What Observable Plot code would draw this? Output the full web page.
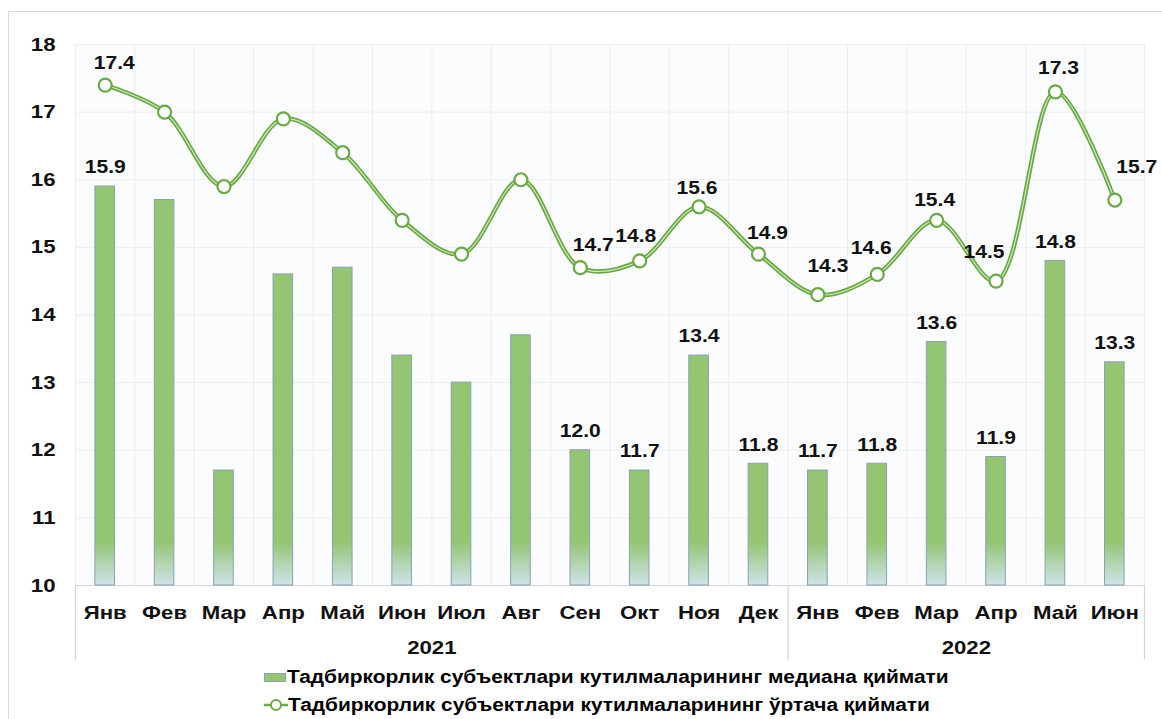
<!DOCTYPE html>
<html>
<head>
<meta charset="utf-8">
<script src="https://cdn.jsdelivr.net/npm/d3@7"></script>
<script src="https://cdn.jsdelivr.net/npm/@observablehq/plot@0.6"></script>
<style>
  html, body { margin: 0; padding: 0; background: #fff; }
  body { width: 1162px; height: 719px; position: relative; overflow: hidden; font-family: "Liberation Sans", Arial, sans-serif; }
  #border { position: absolute; left: 8px; top: 11px; width: 1160px; height: 720px; border-left: 1px solid #d9d9d9; border-top: 1px solid #d9d9d9; box-sizing: border-box; }
  #chart { position: absolute; left: 0; top: 0; }
  #legend { position: absolute; left: 264px; top: 663px; font-weight: bold; font-size: 18px; color: #000; }
  .row { display: flex; align-items: center; height: 28px; white-space: nowrap; }
  .row span { display: inline-block; transform: scaleX(1.16); transform-origin: 0 50%; }
  .sw { width: 22px; height: 9px; background: #93c572; border: 1px solid #8aa0b4; margin-right: 1px; box-sizing: border-box; }
</style>
</head>
<body>
<div id="border"></div>
<div id="chart"></div>
<div id="legend"></div>
<script>
// ---- data ----
const months = ["Янв","Фев","Мар","Апр","Май","Июн","Июл","Авг","Сен","Окт","Ноя","Дек","Янв","Фев","Мар","Апр","Май","Июн"];
const yearNames = ["2021", "2022"];
const yearMonthCounts = [12, 6];
const medianValues = [15.9, 15.7, 11.7, 14.6, 14.7, 13.4, 13.0, 13.7, 12.0, 11.7, 13.4, 11.8, 11.7, 11.8, 13.6, 11.9, 14.8, 13.3];
const meanValues   = [17.4, 17.0, 15.9, 16.9, 16.4, 15.4, 14.9, 16.0, 14.7, 14.8, 15.6, 14.9, 14.3, 14.6, 15.4, 14.5, 17.3, 15.7];
const medianLabelled = [1,0,0,0,0,0,0,0,1,1,1,1,1,1,1,1,1,1];
const meanLabelled   = [1,0,0,0,0,0,0,0,1,1,1,1,1,1,1,1,1,1];
const yTicks = [10, 11, 12, 13, 14, 15, 16, 17, 18];
const seriesNames = [
  "Тадбиркорлик субъектлари кутилмаларининг медиана қиймати",
  "Тадбиркорлик субъектлари кутилмаларининг ўртача қиймати"
];

// ---- build table ----
const data = months.map((m, i) => ({i, month: m, median: medianValues[i], mean: meanValues[i],
  showMedian: !!medianLabelled[i], showMean: !!meanLabelled[i]}));
const yearData = [];
let start = 0;
yearNames.forEach((y, k) => { yearData.push({year: y, center: start + (yearMonthCounts[k] - 1) / 2, left: start - 0.5}); start += yearMonthCounts[k]; });
const separators = yearData.map(d => d.left).concat([start - 0.5]);
const boundaries = d3.range(-0.5, months.length, 1);

// label nudges for the line's labels (as placed in the original)
const nudge = {0:[9,-22], 8:[13,-22], 9:[-4,-25], 10:[-2,-19], 11:[9,-21], 12:[10,-28], 13:[-6,-26], 14:[-2,-20], 15:[-12,-29], 16:[3,-24], 17:[22,-33]};
const meanLabelData = data.filter(d => d.showMean).map(d => ({...d, ndx: (nudge[d.i]||[6,-22])[0], ndy: (nudge[d.i]||[6,-22])[1]}));

const green = "#6aa944";
const marks = [
  Plot.frame({fill: "#fbfcfe", stroke: "#ececec"}),
  Plot.ruleY(yTicks, {stroke: "#ededed", strokeWidth: 1}),
  Plot.ruleX(boundaries, {stroke: "#ededed", strokeWidth: 1}),
  Plot.ruleY([10], {stroke: "#d4d4d4", strokeWidth: 1.2}),
  Plot.ruleX(separators, {y1: 10, y2: 8.9, stroke: "#d4d4d4", strokeWidth: 1.2}),
  Plot.rectY(data, {x1: d => d.i - 0.165, x2: d => d.i + 0.165, y1: 10, y2: "median", fill: "url(#barGrad)", stroke: "#8aa0b4", strokeWidth: 1}),
  Plot.text(data.filter(d => d.showMedian), {x: "i", y: "median", text: d => d.median.toFixed(1), dy: -19, fontSize: 18, fontWeight: "bold", fill: "#111"}),
  Plot.line(data, {x: "i", y: "mean", curve: "catmull-rom", stroke: green, strokeWidth: 4.5}),
  Plot.line(data, {x: "i", y: "mean", curve: "catmull-rom", stroke: "#d6ebc6", strokeWidth: 1.1}),
  Plot.dot(data, {x: "i", y: "mean", r: 6.5, fill: "#ffffff", stroke: green, strokeWidth: 2.2}),
  Plot.text(meanLabelData, {x: "i", y: "mean", text: d => d.mean.toFixed(1), fontSize: 18, fontWeight: "bold", fill: "#111"}),
  Plot.text(yearData, {x: "center", y: 10, text: "year", dy: 62, fontSize: 19, fontWeight: "bold", fill: "#111"})
];

const chart = Plot.plot({
  width: 1162,
  height: 664,
  marginLeft: 75,
  marginRight: 18,
  marginTop: 44,
  marginBottom: 79,
  style: {fontFamily: "'Liberation Sans', Arial, sans-serif", fontSize: "19px", fontWeight: "bold", color: "#111", background: "transparent", overflow: "visible"},
  x: {type: "linear", domain: [-0.5, months.length - 0.5], ticks: d3.range(months.length), tickFormat: i => months[i], tickSize: 0, tickPadding: 20, label: null},
  y: {domain: [10, 18], ticks: yTicks, tickSize: 0, tickPadding: 20, label: null},
  marks
});
document.getElementById("chart").appendChild(chart);

const svg = d3.select(chart);
const ys = chart.scale("y");
// gradient for bars
const defs = svg.insert("defs", ":first-child");
const g = defs.append("linearGradient").attr("id", "barGrad").attr("gradientUnits", "userSpaceOnUse")
  .attr("x1", 0).attr("x2", 0).attr("y1", ys.apply(11.0)).attr("y2", ys.apply(10));
g.append("stop").attr("offset", "0").attr("stop-color", "#93c572");
g.append("stop").attr("offset", "0.35").attr("stop-color", "#93c572");
g.append("stop").attr("offset", "1").attr("stop-color", "#cfe3ea");

// move mean labels according to nudges
const textGroups = svg.selectAll("g[aria-label='text']").nodes();
d3.select(textGroups[1]).selectAll("text").each(function(_, k) {
  const d = meanLabelData[k];
  const t = d3.select(this);
  const tr = t.attr("transform");
  t.attr("transform", (tr ? tr + " " : "") + `translate(${d.ndx},${d.ndy})`);
});

// horizontally widen all text (the original's type is stretched)
const SX = 1.17;
svg.selectAll("text").each(function() {
  const t = d3.select(this);
  const x = +(t.attr("x") || 0);
  const tr = t.attr("transform") || "";
  t.attr("x", null);
  t.attr("transform", `${tr} translate(${x},0) scale(${SX},1)`);
});

// legend
const legend = document.getElementById("legend");
legend.innerHTML = `
  <div class="row"><div class="sw"></div><span>${seriesNames[0]}</span></div>
  <div class="row"><svg width="24" height="14" style="margin-right:0"><line x1="0" y1="7" x2="24" y2="7" stroke="${green}" stroke-width="2.5"/><circle cx="12" cy="7" r="5" fill="#fff" stroke="${green}" stroke-width="2"/></svg><span>${seriesNames[1]}</span></div>`;
</script>
</body>
</html>
